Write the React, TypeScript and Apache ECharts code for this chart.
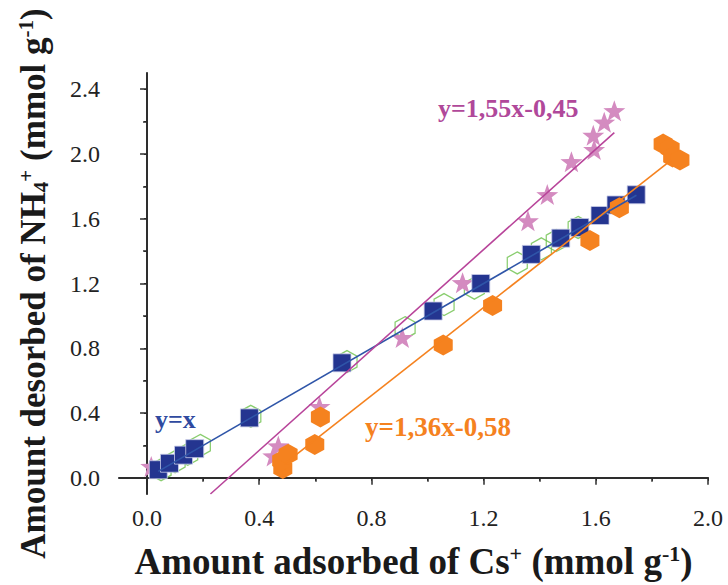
import React, { useEffect, useRef } from "react";
import * as echarts from "echarts";

// Blue squares (y = x)
const squaresData: [number, number][] = [
  [0.04, 0.05], [0.08, 0.09], [0.13, 0.14], [0.17, 0.18], [0.365, 0.37],
  [0.695, 0.71], [1.02, 1.03], [1.19, 1.2], [1.37, 1.38], [1.475, 1.48],
  [1.543, 1.546], [1.615, 1.62], [1.672, 1.685], [1.744, 1.748],
];
// Green open hexagons
const greenHexData: [number, number][] = [
  [0.05, 0.05], [0.1, 0.1], [0.145, 0.145], [0.19, 0.2], [0.37, 0.38],
  [0.713, 0.718], [0.92, 0.927], [1.059, 1.07], [1.167, 1.171], [1.32, 1.327],
  [1.406, 1.414], [1.459, 1.465], [1.537, 1.546],
];
// Pink stars
const starData: [number, number][] = [
  [0.015, 0.07], [0.45, 0.135], [0.468, 0.197], [0.615, 0.44], [0.91, 0.866],
  [1.125, 1.205], [1.358, 1.587], [1.427, 1.749], [1.513, 1.952], [1.591, 2.115],
  [1.594, 2.027], [1.63, 2.196], [1.666, 2.267],
];
// Orange filled hexagons
const orangeData: [number, number][] = [
  [0.484, 0.058], [0.48, 0.105], [0.503, 0.146], [0.598, 0.205], [0.618, 0.376],
  [1.056, 0.82], [1.232, 1.064], [1.579, 1.465], [1.684, 1.668],
  [1.84, 2.062], [1.865, 2.033], [1.874, 1.982], [1.9, 1.962],
];
// Fitted lines (endpoints)
const fitBlue: [number, number][] = [[0.04, 0.04], [1.745, 1.745]];
const fitPink: [number, number][] = [[0.226, -0.1], [1.666, 2.132]];
const fitOrange: [number, number][] = [[0.49, 0.086], [1.87, 1.963]];

const xMajorTicks = [0, 0.4, 0.8, 1.2, 1.6, 2.0];
const xMinorTicks = [0.2, 0.6, 1.0, 1.4, 1.8];
const yMajorTicks = [0, 0.4, 0.8, 1.2, 1.6, 2.0, 2.4];
const yMinorTicks = [0.2, 0.6, 1.0, 1.4, 1.8, 2.2];
const xAllTicks = [0, 0.2, 0.4, 0.6, 0.8, 1.0, 1.2, 1.4, 1.6, 1.8, 2.0];
const yAllTicks = [0, 0.2, 0.4, 0.6, 0.8, 1.0, 1.2, 1.4, 1.6, 1.8, 2.0, 2.2, 2.4];

const eqLabels = ["y=x", "y=1,55x-0,45", "y=1,36x-0,58"];

const HEX = "path://M0,-1 L0.866,-0.5 L0.866,0.5 L0,1 L-0.866,0.5 L-0.866,-0.5 Z";
const STAR =
  "path://M0,-1 L0.235,-0.324 L0.951,-0.309 L0.380,0.124 L0.588,0.809 L0,0.4 L-0.588,0.809 L-0.380,0.124 L-0.951,-0.309 L-0.235,-0.324 Z";

const SERIF = "Liberation Serif";
const AXIS_COLOR = "#2b2b2b";
const X_MIN = -0.1, X_MAX = 2.0, Y_MIN = -0.1, Y_MAX = 2.5;

export default function App() {
  const ref = useRef<HTMLDivElement>(null);
  useEffect(() => {
    if (!ref.current) return;
    const chart = echarts.init(ref.current, null, { renderer: "svg" });
    const lbl = (v: number) => v.toFixed(1);
    const baseX = {
      type: "value" as const,
      min: X_MIN,
      max: X_MAX,
      splitLine: { show: false },
      axisLine: { show: true, lineStyle: { color: AXIS_COLOR, width: 1.5 } },
    };
    const baseY = {
      type: "value" as const,
      min: Y_MIN,
      max: Y_MAX,
      splitLine: { show: false },
      axisLine: { show: true, lineStyle: { color: AXIS_COLOR, width: 1.5 } },
    };
    const richFor = (size: number, lh: number) => ({
      sup: { fontSize: size, fontWeight: "bold", fontFamily: SERIF, color: "#1a1a1a", verticalAlign: "top", lineHeight: lh },
      sub: { fontSize: size, fontWeight: "bold", fontFamily: SERIF, color: "#1a1a1a", verticalAlign: "bottom", lineHeight: lh },
    });
    chart.setOption({
      animation: false,
      backgroundColor: "#ffffff",
      grid: { left: 119, right: 20, top: 73, bottom: 85, containLabel: false },
      xAxis: [
        {
          ...baseX,
          position: "bottom",
          name: "Amount adsorbed of Cs{sup|+} (mmol g{sup|-1})",
          nameLocation: "middle",
          nameGap: 48,
          nameTextStyle: {
            fontFamily: SERIF, fontSize: 37, fontWeight: "bold", color: "#1a1a1a",
            lineHeight: 38, rich: richFor(22, 38),
          },
          axisTick: { show: true, inside: false, length: 7, customValues: xMajorTicks, lineStyle: { color: AXIS_COLOR, width: 1.5 } },
          axisLabel: { show: true, customValues: xMajorTicks, formatter: lbl, fontFamily: SERIF, fontSize: 24, color: "#222", margin: 12 },
        },
        {
          ...baseX,
          position: "bottom",
          axisTick: { show: true, inside: false, length: 4, customValues: xMinorTicks, lineStyle: { color: AXIS_COLOR, width: 1.5 } },
          axisLabel: { show: false },
        },
        {
          ...baseX,
          position: "top",
          axisTick: { show: true, inside: true, length: 3, customValues: xAllTicks, lineStyle: { color: AXIS_COLOR, width: 1 } },
          axisLabel: { show: false },
        },
      ],
      yAxis: [
        {
          ...baseY,
          position: "left",
          name: "Amount desorbed of NH{sub|4}{sup|+} (mmol g{sup|-1})",
          nameLocation: "middle",
          nameGap: 68,
          nameTextStyle: {
            fontFamily: SERIF, fontSize: 35, fontWeight: "bold", color: "#1a1a1a",
            lineHeight: 36, rich: richFor(21, 36),
          },
          axisTick: { show: true, inside: false, length: 7, customValues: yMajorTicks, lineStyle: { color: AXIS_COLOR, width: 1.5 } },
          axisLabel: { show: true, customValues: yMajorTicks, formatter: lbl, fontFamily: SERIF, fontSize: 24, color: "#222", margin: 19 },
        },
        {
          ...baseY,
          position: "left",
          axisTick: { show: true, inside: false, length: 4, customValues: yMinorTicks, lineStyle: { color: AXIS_COLOR, width: 1.5 } },
          axisLabel: { show: false },
        },
        {
          ...baseY,
          position: "right",
          axisTick: { show: true, inside: true, length: 3, customValues: yAllTicks, lineStyle: { color: AXIS_COLOR, width: 1 } },
          axisLabel: { show: false },
        },
      ],
      series: [
        {
          type: "scatter", name: "green", data: greenHexData, symbol: HEX, symbolSize: [20, 22], z: 2,
          itemStyle: { color: "rgba(255,255,255,0)", borderColor: "#6cc04a", borderWidth: 1.3 },
        },
        {
          type: "scatter", name: "stars", data: starData, symbol: STAR, symbolSize: [22, 21], z: 3,
          itemStyle: { color: "#d48bc0", opacity: 1 },
        },
        {
          type: "scatter", name: "squares", data: squaresData, symbol: "rect", symbolSize: 18, z: 4,
          itemStyle: { color: "#243590", borderColor: "#c9cde8", borderWidth: 0.8, opacity: 1 },
        },
        {
          type: "scatter", name: "orange", data: orangeData, symbol: HEX, symbolSize: [19, 21], z: 5,
          itemStyle: { color: "#f5821f", opacity: 1 },
        },
        {
          type: "line", name: "fitBlue", data: fitBlue, showSymbol: false, symbol: "none", z: 6,
          lineStyle: { color: "#2f55a8", width: 1.6 },
        },
        {
          type: "line", name: "fitPink", data: fitPink, showSymbol: false, symbol: "none", z: 6,
          lineStyle: { color: "#b8449a", width: 1.6 },
        },
        {
          type: "line", name: "fitOrange", data: fitOrange, showSymbol: false, symbol: "none", z: 6,
          lineStyle: { color: "#f5821f", width: 1.6 },
        },
      ],
      graphic: [
        {
          type: "text", left: 155, top: 406, z: 10,
          style: { text: eqLabels[0], fontFamily: SERIF, fontSize: 26, fontWeight: "bold", fill: "#2f4aa0" },
        },
        {
          type: "text", left: 438, top: 95, z: 10,
          style: { text: eqLabels[1], fontFamily: SERIF, fontSize: 26, fontWeight: "bold", fill: "#b0489a" },
        },
        {
          type: "text", left: 365, top: 413, z: 10,
          style: { text: eqLabels[2], fontFamily: SERIF, fontSize: 27, fontWeight: "bold", fill: "#f5821f" },
        },
      ],
    });
    return () => chart.dispose();
  }, []);
  return (
    <div
      ref={ref}
      style={{ position: "fixed", left: 0, top: 0, width: 728, height: 585 }}
    />
  );
}
